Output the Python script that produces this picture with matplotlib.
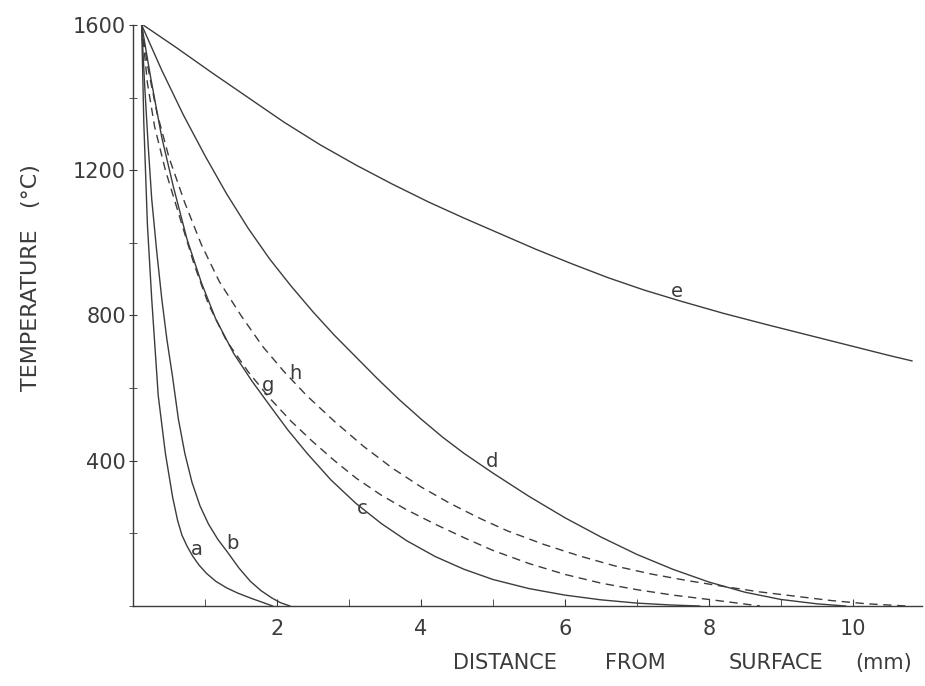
import matplotlib
matplotlib.use("Agg")
import matplotlib.pyplot as plt
from matplotlib.ticker import MultipleLocator

# temperature profiles (deg C) vs distance from surface (mm)
a_x = [0.12, 0.15, 0.20, 0.26, 0.35, 0.45, 0.55, 0.62, 0.68, 0.75, 0.83, 0.92,
       1.02, 1.15, 1.30, 1.45, 1.63, 1.80, 1.94]
a_y = [1600, 1330, 1050, 845, 580, 420, 300, 235, 195, 165, 137, 112,
       90, 68, 50, 36, 22, 10, 0]

b_x = [0.12, 0.16, 0.21, 0.26, 0.33, 0.40, 0.47, 0.55, 0.63, 0.72, 0.82, 0.93,
       1.05, 1.18, 1.31, 1.47, 1.63, 1.78, 1.93, 2.05, 2.18]
b_y = [1600, 1440, 1270, 1120, 975, 845, 735, 630, 515, 420, 340, 276,
       225, 183, 149, 105, 68, 42, 22, 9, 0]

c_x = [0.12, 0.25, 0.40, 0.56, 0.75, 0.95, 1.15, 1.40, 1.65, 1.90, 2.15, 2.42,
       2.75, 3.10, 3.45, 3.80, 4.20, 4.60, 5.00, 5.50, 6.00, 6.50, 7.00, 7.45, 7.87]
c_y = [1600, 1450, 1290, 1155, 1010, 890, 790, 695, 620, 552, 485, 420,
       347, 282, 227, 180, 136, 101, 73, 48, 30, 17, 8, 3, 0]

d_x = [0.12, 0.40, 0.70, 1.00, 1.30, 1.60, 1.90, 2.20, 2.50, 2.80, 3.10, 3.40,
       3.70, 4.00, 4.30, 4.60, 5.00, 5.50, 6.00, 6.50, 7.00, 7.50, 8.00, 8.50,
       9.00, 9.50, 9.90]
d_y = [1600, 1475, 1352, 1240, 1135, 1040, 955, 880, 810, 745, 685, 625,
       568, 515, 465, 420, 366, 302, 243, 190, 142, 101, 66, 38,
       18, 6, 0]

e_x = [0.14, 0.60, 1.10, 1.60, 2.10, 2.60, 3.10, 3.60, 4.10, 4.60, 5.10, 5.60,
       6.10, 6.60, 7.10, 7.60, 8.20, 8.80, 9.40, 10.00, 10.50, 10.82]
e_y = [1600, 1538, 1468, 1400, 1332, 1270, 1214, 1162, 1113, 1068, 1025, 982,
       942, 904, 870, 840, 806, 775, 745, 715, 690, 675]

g_x = [0.12, 0.20, 0.30, 0.45, 0.65, 0.85, 1.05, 1.30, 1.60, 1.90, 2.20, 2.50,
       2.80, 3.10, 3.45, 3.80, 4.20, 4.60, 5.00, 5.50, 6.00, 6.50, 7.00, 7.50,
       8.00, 8.40, 8.71]
g_y = [1600, 1440, 1320, 1200, 1070, 940, 830, 730, 645, 572, 508, 452,
       400, 352, 305, 265, 225, 188, 153, 117, 87, 63, 45, 30,
       18, 8, 0]

h_x = [0.12, 0.20, 0.33, 0.50, 0.72, 0.95, 1.20, 1.50, 1.80, 2.10, 2.42, 2.80,
       3.20, 3.60, 4.00, 4.40, 4.80, 5.20, 5.70, 6.20, 6.70, 7.20, 7.70, 8.20,
       8.70, 9.20, 9.70, 10.20, 10.75]
h_y = [1600, 1490, 1360, 1235, 1110, 995, 893, 800, 715, 645, 578, 508,
       440, 380, 328, 283, 243, 207, 170, 138, 110, 88, 70, 54,
       39, 27, 15, 6, 0]

# curve letters and where they sit
lab_text = ["a", "b", "c", "d", "e", "g", "h"]
lab_x = [0.89, 1.38, 3.19, 4.99, 7.56, 1.88, 2.26]
lab_y = [156, 172, 269, 399, 867, 607, 640]

# axis title words (spread out as in the original lettering)
xlab_words = ["DISTANCE", "FROM", "SURFACE", "(mm)"]
xlab_pos = [0.546, 0.687, 0.839, 0.955]

INK = "#3c3c3c"
plt.rcParams["font.family"] = ["DejaVu Sans"]

fig = plt.figure(figsize=(9.25, 6.86), dpi=100)
ax = fig.add_axes([0.1438, 0.1166, 0.853, 0.847])

for xs, ys in [(a_x, a_y), (b_x, b_y), (c_x, c_y), (d_x, d_y), (e_x, e_y)]:
    ax.plot(xs, ys, color=INK, lw=1.0, solid_joinstyle="round")
for xs, ys in [(g_x, g_y), (h_x, h_y)]:
    ax.plot(xs, ys, color=INK, lw=1.0, dashes=(6, 4))

for t, x, y in zip(lab_text, lab_x, lab_y):
    ax.text(x, y, t, fontsize=14, color=INK, ha="center", va="center")

ax.set_xlim(0, 10.96)
ax.set_ylim(0, 1600)
for s in ("top", "right"):
    ax.spines[s].set_visible(False)
for s in ("left", "bottom"):
    ax.spines[s].set_color(INK)
    ax.spines[s].set_linewidth(1.0)

ax.set_xticks([2, 4, 6, 8, 10])
ax.set_yticks([400, 800, 1200, 1600])
ax.xaxis.set_minor_locator(MultipleLocator(1))
ax.yaxis.set_minor_locator(MultipleLocator(200))
ax.tick_params(axis="x", which="both", direction="in", length=5, color=INK,
               labelsize=15, labelcolor=INK, pad=9)
ax.tick_params(axis="y", which="both", direction="inout", length=6, color=INK,
               labelsize=15, labelcolor=INK, pad=2)

for w, xp in zip(xlab_words, xlab_pos):
    fig.text(xp, 0.0335, w, fontsize=15, color=INK, ha="center", va="center")
fig.text(0.033, 0.595, "TEMPERATURE   (\u00b0C)", fontsize=16, color=INK,
         rotation=90, ha="center", va="center")

fig.savefig("out.png", dpi=100, facecolor="white")
